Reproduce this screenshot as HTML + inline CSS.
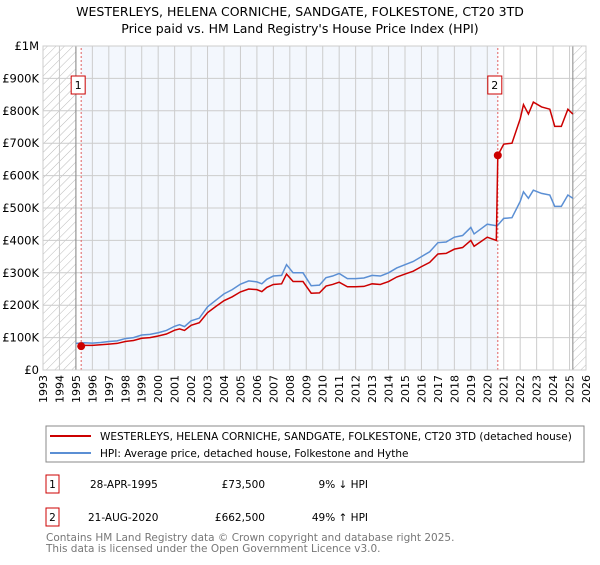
<!DOCTYPE html>
<html><head><meta charset="utf-8"><style>
body{margin:0;background:#fff;font-family:"Liberation Sans","DejaVu Sans",sans-serif;}
svg text{font-family:"DejaVu Sans","Liberation Sans",sans-serif;}
</style></head><body>
<svg id="c" width="600" height="560" xmlns="http://www.w3.org/2000/svg">
<defs><pattern id="h" width="6" height="6" patternUnits="userSpaceOnUse" patternTransform="rotate(45)"><line x1="0" y1="0" x2="0" y2="6" stroke="#bbb" stroke-width="1"/></pattern></defs>
<text x="300" y="16" text-anchor="middle" font-size="12.5">WESTERLEYS, HELENA CORNICHE, SANDGATE, FOLKESTONE, CT20 3TD</text>
<text x="300" y="33" text-anchor="middle" font-size="12.5">Price paid vs. HM Land Registry's House Price Index (HPI)</text>
<g id="plot"></g>
<rect x="46" y="426" width="538" height="36" fill="#fff" stroke="#888"/>
<line x1="50" y1="436" x2="91" y2="436" stroke="#cc0000" stroke-width="2"/>
<text x="100" y="440" font-size="10.5">WESTERLEYS, HELENA CORNICHE, SANDGATE, FOLKESTONE, CT20 3TD (detached house)</text>
<line x1="50" y1="453" x2="91" y2="453" stroke="#5b8fd4" stroke-width="2"/>
<text x="100" y="457" font-size="10.5">HPI: Average price, detached house, Folkestone and Hythe</text>
<g>
<rect x="46" y="475" width="13" height="18" fill="#fff" stroke="#cc0000"/><text x="52.5" y="488" text-anchor="middle" font-size="10.5">1</text>
<text x="90" y="488" font-size="10.5">28-APR-1995</text><text x="265" y="488" text-anchor="end" font-size="10.5">£73,500</text><text x="368" y="488" text-anchor="end" font-size="10.5">9% ↓ HPI</text></g>
<g>
<rect x="46" y="508" width="13" height="18" fill="#fff" stroke="#cc0000"/><text x="52.5" y="521" text-anchor="middle" font-size="10.5">2</text>
<text x="88" y="521" font-size="10.5">21-AUG-2020</text><text x="265" y="521" text-anchor="end" font-size="10.5">£662,500</text><text x="368" y="521" text-anchor="end" font-size="10.5">49% ↑ HPI</text></g>
<text x="46" y="541" font-size="10.5" fill="#777">Contains HM Land Registry data © Crown copyright and database right 2025.</text>
<text x="46" y="552" font-size="10.5" fill="#777">This data is licensed under the Open Government Licence v3.0.</text>
</svg>
<script>
const hpiYears=[1995,1995.5,1996,1996.5,1997,1997.5,1998,1998.5,1999,1999.5,2000,2000.5,2001,2001.3,2001.6,2002,2002.5,2003,2003.5,2004,2004.5,2005,2005.5,2006,2006.3,2006.6,2007,2007.5,2007.8,2008.2,2008.8,2009.3,2009.8,2010.2,2010.6,2011,2011.5,2012,2012.5,2013,2013.5,2014,2014.5,2015,2015.5,2016,2016.5,2017,2017.5,2018,2018.5,2019,2019.2,2019.6,2020,2020.6,2021,2021.5,2022,2022.2,2022.5,2022.8,2023.3,2023.8,2024.1,2024.5,2024.9,2025.2];
const hpiValues=[82,84,83,85,88,90,97,100,108,110,115,122,135,140,134,152,160,195,215,235,248,265,275,272,266,280,290,292,325,300,300,260,262,285,290,298,282,282,284,292,290,300,315,325,335,350,365,393,395,410,415,440,420,435,450,445,468,470,520,550,530,555,545,540,505,505,540,530];
const priceYears=[1995.32,1995.5,1996,1996.5,1997,1997.5,1998,1998.5,1999,1999.5,2000,2000.5,2001,2001.3,2001.6,2002,2002.5,2003,2003.5,2004,2004.5,2005,2005.5,2006,2006.3,2006.6,2007,2007.5,2007.8,2008.2,2008.8,2009.3,2009.8,2010.2,2010.6,2011,2011.5,2012,2012.5,2013,2013.5,2014,2014.5,2015,2015.5,2016,2016.5,2017,2017.5,2018,2018.5,2019,2019.2,2019.6,2020,2020.55,2020.64,2021,2021.5,2022,2022.2,2022.5,2022.8,2023.3,2023.8,2024.1,2024.5,2024.9,2025.2];
const priceValues=[73.5,76,76,78,80,82,88,91,98,100,105,111,123,127,122,138,146,177,196,214,226,241,250,248,242,255,264,266,296,273,273,237,238,259,264,271,257,257,258,266,264,273,287,296,305,319,332,358,360,373,378,400,382,396,410,400,662.5,697,700,775,819,790,827,812,805,752,752,805,790];
const sales=[{y:1995.32,v:73.5,l:'1'},{y:2020.64,v:662.5,l:'2'}];
const yTicks=[0,100,200,300,400,500,600,700,800,900,1000];
const yTickLabels=['£0','£100K','£200K','£300K','£400K','£500K','£600K','£700K','£800K','£900K','£1M'];
const xYears=[];for(let y=1993;y<=2026;y++)xYears.push(y);
const X=y=>43+(y-1993)*(586-43)/33, Y=v=>370-v*(370-46)/1000;
const NS='http://www.w3.org/2000/svg',g=document.getElementById('plot');
function mk(t,a){const e=document.createElementNS(NS,t);for(const k in a)e.setAttribute(k,a[k]);g.appendChild(e);return e;}
let e;
e=mk('rect',{x:X(1993),y:Y(1000),width:X(2026)-X(1993),height:Y(0)-Y(1000),fill:'#fff'});


e=mk('rect',{x:X(sales[0].y),y:Y(1000),width:X(sales[1].y)-X(sales[0].y),height:Y(0)-Y(1000),fill:'#eef3fc',opacity:0.7});


e=mk('rect',{x:X(1993),y:Y(1000),width:X(1995)-X(1993),height:Y(0)-Y(1000),fill:'url(#h)'});


e=mk('rect',{x:X(2025.2),y:Y(1000),width:X(2026)-X(2025.2),height:Y(0)-Y(1000),fill:'url(#h)'});


xYears.forEach(y=>{
 e=mk('line',{x1:X(y),x2:X(y),y1:Y(0),y2:Y(1000),stroke:'#ccc','stroke-width':1});
 
 
 e=mk('text',{x:0,y:0,'font-size':11,'text-anchor':'end',transform:`translate(${X(y)+4},375) rotate(-90)`});e.textContent=y;
 
 
});
yTicks.forEach((v,i)=>{
 e=mk('line',{x1:X(1993),x2:X(2026),y1:Y(v),y2:Y(v),stroke:'#ccc','stroke-width':1});
 
 
 e=mk('text',{x:39,y:Y(v)+4,'font-size':11.5,'text-anchor':'end'});e.textContent=yTickLabels[i];
 
 
});
[1995,2025.2].forEach(y=>{e=mk('line',{x1:X(y),x2:X(y),y1:Y(0),y2:Y(1000),stroke:'#888'});
 
 });
sales.forEach(s=>{e=mk('line',{x1:X(s.y),x2:X(s.y),y1:Y(0),y2:Y(1000),stroke:'#e06060','stroke-dasharray':'2,2'});
 
 });
e=mk('polyline',{points:hpiYears.map((y,i)=>X(y)+','+Y(hpiValues[i])).join(' '),fill:'none',stroke:'#5b8fd4','stroke-width':1.5});


e=mk('polyline',{points:priceYears.map((y,i)=>X(y)+','+Y(priceValues[i])).join(' '),fill:'none',stroke:'#cc0000','stroke-width':1.5});


sales.forEach(s=>{
 e=mk('circle',{cx:X(s.y),cy:Y(s.v),r:4,fill:'#cc0000'});
 
 
 e=mk('rect',{x:X(s.y)-10,y:76,width:14,height:18,fill:'#fff',stroke:'#cc0000'});
 
 
 e=mk('text',{x:X(s.y)-3,y:89,'font-size':11,'text-anchor':'middle'});e.textContent=s.l;
 
 
});
e=mk('rect',{x:X(1993),y:Y(1000),width:X(2026)-X(1993),height:Y(0)-Y(1000),fill:'none',stroke:'#ccc'});


</script>
</body></html>
